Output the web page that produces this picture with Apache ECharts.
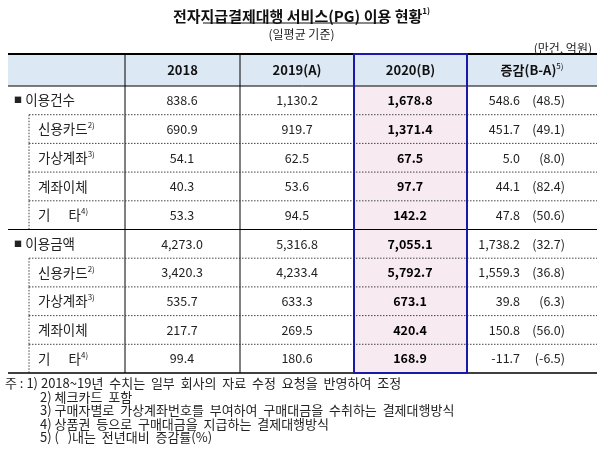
<!DOCTYPE html>
<html><head><meta charset="utf-8">
<script src="https://cdn.jsdelivr.net/npm/echarts@6/dist/echarts.min.js"></script>
<style>html,body{margin:0;background:#fff}#chart-box{width:603px;height:454px}</style>
</head><body><div id="chart-box"></div>
<script>
// 표 데이터
var columns = ['2018', '2019(A)', '2020(B)', '증감(B-A)'];
var rowLabels = ['이용건수', '신용카드', '가상계좌', '계좌이체', '기      타', '이용금액', '신용카드', '가상계좌', '계좌이체', '기      타'];
var rowNotes = ['', '2)', '3)', '', '4)', '', '2)', '3)', '', '4)'];
var isMain = [true, false, false, false, false, true, false, false, false, false];
var v2018 = ['838.6', '690.9', '54.1', '40.3', '53.3', '4,273.0', '3,420.3', '535.7', '217.7', '99.4'];
var v2019 = ['1,130.2', '919.7', '62.5', '53.6', '94.5', '5,316.8', '4,233.4', '633.3', '269.5', '180.6'];
var v2020 = ['1,678.8', '1,371.4', '67.5', '97.7', '142.2', '7,055.1', '5,792.7', '673.1', '420.4', '168.9'];
var diff = ['548.6', '451.7', '5.0', '44.1', '47.8', '1,738.2', '1,559.3', '39.8', '150.8', '-11.7'];
var rate = ['(48.5)', '(49.1)', '(8.0)', '(82.4)', '(50.6)', '(32.7)', '(36.8)', '(6.3)', '(56.0)', '(-6.5)'];
var notes = [
  '주 : 1) 2018~19년  수치는  일부  회사의  자료  수정  요청을  반영하여  조정',
  '2) 체크카드  포함',
  '3) 구매자별로  가상계좌번호를  부여하여  구매대금을  수취하는  결제대행방식',
  '4) 상품권  등으로  구매대금을  지급하는  결제대행방식',
  '5) (   )내는  전년대비  증감률(%)'
];

// 레이아웃
var colEdges = [8, 125, 240, 354, 467, 597];
var headTop = 54, headBottom = 86, rowH = 28.7;
var font = '"Noto Sans CJK KR", sans-serif';

var myChart = echarts.init(document.getElementById('chart-box'));

function rowTop(i) { return headBottom + i * rowH; }

function txt(api, x, y, s, opt) {
  var p = api.coord([x, y]);
  return {
    type: 'text', x: p[0], y: p[1], z2: 10,
    style: Object.assign({ text: s, font: '12.5px ' + font, fill: '#222', align: 'center', verticalAlign: 'middle' }, opt || {})
  };
}
function line(api, x1, y1, x2, y2, st) {
  var a = api.coord([x1, y1]), b = api.coord([x2, y2]);
  return { type: 'line', z2: 5, shape: { x1: a[0], y1: a[1], x2: b[0], y2: b[1] }, style: Object.assign({ stroke: '#000', lineWidth: 1 }, st || {}) };
}
function rect(api, x1, y1, x2, y2, fill) {
  var a = api.coord([x1, y1]), b = api.coord([x2, y2]);
  return { type: 'rect', z2: 1, shape: { x: a[0], y: a[1], width: b[0] - a[0], height: b[1] - a[1] }, style: { fill: fill } };
}

function renderRow(params, api) {
  var i = api.value(0);
  var ch = [];
  var dotted = { lineDash: [1.5, 1.5], stroke: '#444' };
  if (i < 0) {
    // 헤더
    ch.push(rect(api, colEdges[0], headTop, colEdges[5], headBottom, '#dce8f4'));
    ch.push(line(api, colEdges[0], headTop, colEdges[5], headTop, { lineWidth: 2 }));
    ch.push(line(api, colEdges[0], headBottom, colEdges[5], headBottom));
    for (var c = 0; c < 4; c++) {
      var cx = (colEdges[c + 1] + colEdges[c + 2]) / 2;
      var label = c === 3 ? '{b|' + columns[c] + '}{s|5)}' : '{b|' + columns[c] + '}';
      var t = txt(api, cx, (headTop + headBottom) / 2, '', {});
      t.style = { text: label, align: 'center', verticalAlign: 'middle',
        rich: { b: { font: 'bold 13px ' + font, fill: '#111' }, s: { font: '8px ' + font, fill: '#111', verticalAlign: 'top', padding: [0, 0, 8, 0] } } };
      ch.push(t);
    }
    for (var k = 1; k < 5; k++) ch.push(line(api, colEdges[k], headTop, colEdges[k], headBottom));
    return { type: 'group', children: ch };
  }
  var top = rowTop(i), bot = top + rowH, cy = (top + bot) / 2;
  ch.push(rect(api, colEdges[3], top, colEdges[4], bot, '#f8eaf1'));
  // 행 구분선
  if (i === 5) ch.push(line(api, colEdges[0], top, colEdges[5], top));
  else if (i > 0) ch.push(line(api, 29, top, colEdges[5], top, dotted));
  if (!isMain[i]) ch.push(line(api, 29, top, 29, bot, dotted));
  if (i === 9) ch.push(line(api, colEdges[0], bot, colEdges[5], bot, { lineWidth: 1.5 }));
  for (var k2 = 1; k2 < 5; k2++) ch.push(line(api, colEdges[k2], top, colEdges[k2], bot));
  // 레이블
  var lab = isMain[i] ? '{m|■} {n|' + rowLabels[i] + '}' : '{n|' + rowLabels[i] + '}' + (rowNotes[i] ? '{s|' + rowNotes[i] + '}' : '');
  var lt = txt(api, isMain[i] ? 14 : 38, cy, '', {});
  lt.style = { text: lab, align: 'left', verticalAlign: 'middle',
    rich: { m: { font: '8px ' + font, fill: '#222' }, n: { font: '13.5px ' + font, fill: '#222' }, s: { font: '8px ' + font, fill: '#222', verticalAlign: 'top', padding: [0, 0, 8, 0] } } };
  ch.push(lt);
  ch.push(txt(api, 182, cy, v2018[i]));
  ch.push(txt(api, 297, cy, v2019[i]));
  ch.push(txt(api, 410, cy, v2020[i], { font: 'bold 12.5px ' + font, fill: '#000' }));
  ch.push(txt(api, 520, cy, diff[i], { align: 'right' }));
  ch.push(txt(api, 565, cy, rate[i], { align: 'right' }));
  return { type: 'group', children: ch };
}

function renderBorder(params, api) {
  var a = api.coord([colEdges[3], headTop]), b = api.coord([colEdges[4], rowTop(rowLabels.length)]);
  return { type: 'rect', z2: 20, shape: { x: a[0], y: a[1], width: b[0] - a[0], height: b[1] - a[1] }, style: { fill: null, stroke: '#1a1aa8', lineWidth: 2 } };
}

var rowData = [[-1]];
for (var r = 0; r < rowLabels.length; r++) rowData.push([r]);

var option = {
  animation: false,
  title: [{
    text: '{t|전자지급결제대행 서비스(PG) 이용 현황}{s|1)}',
    left: 'center', top: 2,
    textStyle: { rich: {
      t: { fontFamily: font, fontSize: 15, fontWeight: 'bold', color: '#111' },
      s: { fontFamily: font, fontSize: 8, color: '#111', verticalAlign: 'top', padding: [0, 0, 10, 0] } } }
  }, {
    text: '(일평균 기준)', left: 'center', top: 23,
    textStyle: { fontFamily: font, fontSize: 12, fontWeight: 'normal', color: '#222' }
  }, {
    text: '(만건, 억원)', right: 6, top: 37,
    textStyle: { fontFamily: font, fontSize: 12, fontWeight: 'normal', color: '#222' }
  }],
  graphic: [{ type: 'line', shape: { x1: 203, y1: 23, x2: 383, y2: 23 }, style: { stroke: '#111', lineWidth: 1 } }],
  grid: { left: 0, right: 0, top: 0, bottom: 0 },
  xAxis: { type: 'value', min: 0, max: 603, show: false },
  yAxis: { type: 'value', min: 0, max: 454, inverse: true, show: false },
  series: [{
    type: 'custom', name: 'table', data: rowData, renderItem: renderRow, silent: true
  }, {
    type: 'custom', name: 'border', data: [[0]], renderItem: renderBorder, silent: true, z: 5
  }, {
    type: 'custom', name: 'notes', silent: true,
    data: notes.map(function (n, i) { return [i]; }),
    renderItem: function (params, api) {
      var i = api.value(0);
      return txt(api, i === 0 ? 5 : 40, 383 + i * 13.6, notes[i], { align: 'left', font: '13px ' + font, fill: '#222' });
    }
  }]
};

myChart.setOption(option);
</script>
</body></html>
